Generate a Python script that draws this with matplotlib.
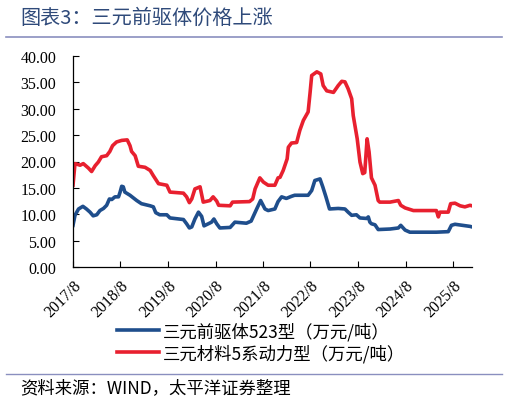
import matplotlib
matplotlib.use("Agg")
import matplotlib.pyplot as plt
import pandas as pd

plt.rcParams['font.family'] = ['Noto Sans CJK SC', 'DejaVu Sans']

# months since 2017-08 and values (万元/吨)
red_months = [0.0, 0.5, 1.8, 2.6, 3.9, 4.7, 5.6, 6.4, 7.2, 8.5, 9.3, 10.0, 11.0, 12.3, 13.7,
              14.4, 14.8, 15.7, 16.5, 18.2, 19.5, 20.3, 21.6, 23.7, 24.5, 27.9, 28.7, 29.4,
              30.0, 30.8, 32.1, 32.9, 34.6, 35.4, 36.3, 36.8, 39.7, 40.3, 44.6, 45.4, 46.0,
              47.2, 48.1, 49.3, 51.0, 51.8, 52.3, 53.1, 54.1, 54.4, 55.2, 56.5, 57.3, 58.2,
              59.4, 59.9, 60.3, 61.6, 62.6, 63.2, 64.1, 65.8, 67.0, 67.9, 68.7, 69.5, 70.4,
              70.8, 71.8, 72.5, 73.2, 73.7, 74.3, 74.8, 75.4, 76.3, 77.1, 77.5, 80.1, 82.2,
              82.8, 83.9, 86.0, 91.8, 92.3, 92.7, 94.8, 95.4, 96.5, 97.8, 99.0, 100.3, 100.8]
red_values = [15.5, 19.6, 19.3, 19.6, 18.75, 18.1, 19.2, 19.9, 20.9, 21.1, 21.9, 23.0, 23.7, 24.0, 24.1,
              23.0, 21.9, 21.1, 19.1, 18.9, 18.3, 17.3, 15.8, 15.5, 14.2, 14.0, 13.3, 12.2,
              12.9, 14.8, 15.2, 12.3, 12.6, 13.3, 12.5, 11.7, 11.6, 12.3, 12.4, 12.9, 14.8,
              16.9, 16.1, 15.5, 15.5, 16.9, 17.0, 18.3, 20.5, 22.7, 23.5, 23.6, 25.9, 27.8,
              29.4, 33.1, 36.3, 37.0, 36.6, 34.4, 33.4, 33.1, 34.4, 35.2, 35.1, 33.8, 31.9,
              28.7, 24.3, 19.9, 17.7, 17.9, 24.3, 21.8, 16.9, 15.5, 12.6, 12.3, 12.3, 12.6,
              11.7, 11.2, 10.7, 10.7, 9.5, 10.4, 10.4, 12.0, 12.1, 11.6, 11.4, 11.7, 11.6]

blue_months = [0.0, 0.5, 1.4, 2.5, 3.4, 4.3, 5.1, 6.0, 6.8, 7.7, 8.5, 9.2, 9.8, 10.6, 11.5,
               11.9, 12.3, 12.7, 13.1, 14.4, 16.1, 17.3, 19.5, 20.3, 20.9, 21.9, 23.7, 24.5,
               27.9, 28.7, 29.4, 30.0, 30.8, 31.7, 32.5, 33.1, 34.2, 35.0, 35.6, 36.3, 37.1,
               39.7, 40.9, 43.8, 45.0, 46.4, 47.4, 48.5, 49.3, 51.0, 51.8, 52.7, 53.9, 55.2,
               56.0, 59.4, 60.3, 61.1, 62.4, 63.1, 63.9, 64.8, 67.0, 68.7, 69.5, 70.4, 71.6,
               72.5, 74.2, 74.6, 75.0, 75.4, 76.3, 77.1, 80.1, 82.2, 82.8, 83.9, 85.1, 91.8,
               94.8, 95.6, 96.5, 100.3, 100.8]
blue_values = [7.9, 9.8, 11.0, 11.5, 11.0, 10.4, 9.7, 9.9, 10.7, 11.1, 11.7, 12.9, 12.8, 13.3, 13.3,
               14.2, 15.3, 15.2, 14.2, 13.6, 12.6, 12.0, 11.6, 11.4, 10.3, 9.9, 9.9, 9.3,
               9.0, 8.2, 7.4, 7.6, 9.1, 10.4, 9.6, 7.8, 8.2, 8.5, 9.1, 8.2, 7.4,
               7.5, 8.5, 8.3, 8.7, 11.0, 12.6, 11.0, 10.7, 11.0, 12.4, 13.3, 13.0, 13.4,
               13.6, 13.6, 14.5, 16.4, 16.7, 15.2, 13.3, 11.0, 11.1, 11.0, 10.4, 9.8, 9.9,
               9.3, 9.2, 9.5, 8.5, 8.2, 8.0, 7.1, 7.2, 7.4, 7.9, 7.0, 6.6, 6.6,
               6.7, 7.9, 8.1, 7.7, 7.6]

series_labels = ["三元前驱体523型（万元/吨）", "三元材料5系动力型（万元/吨）"]
xtick_labels = ["2017/8", "2018/8", "2019/8", "2020/8", "2021/8", "2022/8", "2023/8", "2024/8", "2025/8"]
yticks = [0, 5, 10, 15, 20, 25, 30, 35, 40]

start = pd.Timestamp("2017-08-01")
def to_dates(months):
    return [start + pd.Timedelta(days=m * 30.4375) for m in months]

blue_c = "#1F4E8C"
red_c = "#E8202F"

fig = plt.figure(figsize=(5.07, 4.02), dpi=100)
W, H = 507, 402
ax = fig.add_axes([73 / W, 1 - 268 / H, (472 - 73) / W, (268 - 57) / H])

l1, = ax.plot(to_dates(blue_months), blue_values, color=blue_c, lw=2.6, solid_joinstyle='round')
l2, = ax.plot(to_dates(red_months), red_values, color=red_c, lw=2.6, solid_joinstyle='round')

ax.set_ylim(0, 40)
ax.set_yticks(yticks)
ax.set_yticklabels([f"{v:.2f}" for v in yticks], family=['Liberation Serif'], fontsize=11.5)
xt = [pd.Timestamp(f"{2017 + i}-08-01") for i in range(len(xtick_labels))]
ax.set_xticks(xt)
ax.set_xticklabels(xtick_labels, rotation=45, ha='right', va='top', family=['Liberation Serif'],
                   fontsize=11.5, rotation_mode='anchor')
ax.set_xlim(start, start + pd.Timedelta(days=100.8 * 30.4375))
ax.tick_params(axis='both', direction='in', length=4, width=0.8, colors='black')
ax.tick_params(axis='y', pad=12)
ax.tick_params(axis='x', pad=7)
for s in ['top', 'right']:
    ax.spines[s].set_visible(False)
for s in ['left', 'bottom']:
    ax.spines[s].set_linewidth(0.9)
    ax.spines[s].set_color('black')

fig.legend([l1, l2], series_labels, loc='upper left', bbox_to_anchor=(117 / W, 1 - 323 / H),
           frameon=False, fontsize=12.5, handlelength=2.4, handletextpad=0.25, labelspacing=0.2,
           borderaxespad=0, borderpad=0)

fig.text(20 / W, 1 - 18 / H, "图表3：三元前驱体价格上涨", fontsize=14.5, color="#2F4A7A", va='center', ha='left')
fig.add_artist(plt.Line2D([6 / W, 502 / W], [1 - 37.5 / H, 1 - 37.5 / H], color="#8A8FBF", lw=1.2))
fig.add_artist(plt.Line2D([6 / W, 502 / W], [1 - 375 / H, 1 - 375 / H], color="#8A8FBF", lw=1.0))
fig.text(20 / W, 1 - 388 / H, "资料来源：WIND，太平洋证券整理", fontsize=12.5, style='italic',
         color='black', va='center', ha='left')

fig.savefig("out.png", dpi=100)
